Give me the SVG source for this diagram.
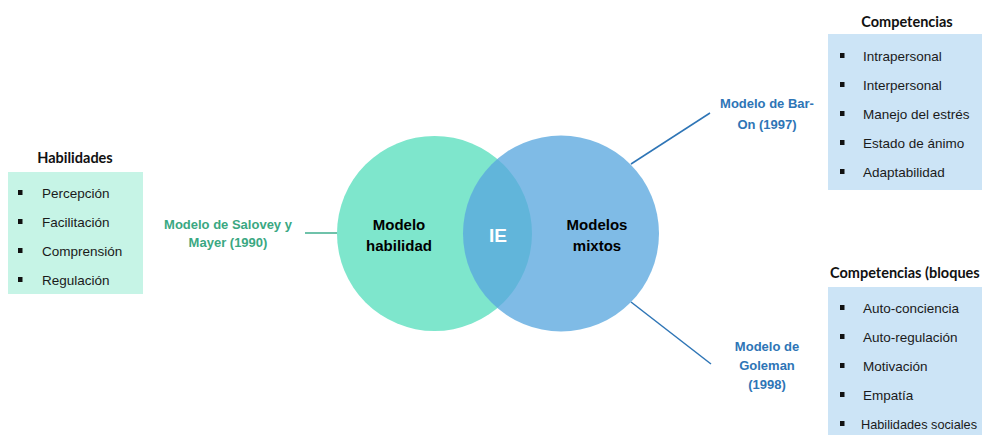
<svg xmlns="http://www.w3.org/2000/svg" width="982" height="435" viewBox="0 0 982 435">
<style>
.item{font-family:"Liberation Sans",Arial,sans-serif;font-size:13.5px;fill:#1a1a1a}
.head{font-family:Lato,"Liberation Sans",sans-serif;font-size:14.5px;font-weight:bold;fill:#111}
.lbl{font-family:"Liberation Sans",Arial,sans-serif;font-size:13px;font-weight:bold;text-anchor:middle}
.green{fill:#3aa882}
.blue{fill:#2e75b6}
.circ{font-family:"Liberation Sans",Arial,sans-serif;font-size:15px;font-weight:bold;text-anchor:middle;fill:#000}
.bul{fill:#111}
</style>
<rect width="982" height="435" fill="#ffffff"/>
<g id="connectors" fill="none" stroke-width="1.5">
<line x1="305" y1="233" x2="338" y2="233" stroke="#3fae8e"/>
<line x1="631" y1="164" x2="710" y2="113" stroke="#2e75b6"/>
<line x1="631" y1="302" x2="711" y2="364" stroke="#2e75b6"/>
</g>
<g id="venn">
<circle id="circle-habilidad" cx="434.5" cy="233.5" r="97.5" fill="#7ee6cc"/>
<circle id="circle-mixtos" cx="561" cy="233.5" r="98" fill="#59a7de" fill-opacity="0.77"/>
<text class="circ" x="399" y="229.5">Modelo</text>
<text class="circ" x="399" y="250.5">habilidad</text>
<text class="circ" x="597" y="229.5">Modelos</text>
<text class="circ" x="597" y="250.5">mixtos</text>
<text x="498" y="242" font-family="Liberation Sans,Arial,sans-serif" font-size="19" font-weight="bold" fill="#ffffff" text-anchor="middle">IE</text>
</g>
<g id="habilidades">
<text class="head" x="75" y="163" text-anchor="middle">Habilidades</text>
<rect x="8" y="172" width="135" height="122" fill="#c6f4e6"/>
<rect class="bul" x="18" y="190" width="4.5" height="5"/>
<rect class="bul" x="18" y="219" width="4.5" height="5"/>
<rect class="bul" x="18" y="248" width="4.5" height="5"/>
<rect class="bul" x="18" y="277" width="4.5" height="5"/>
<text class="item" x="42" y="198">Percepción</text>
<text class="item" x="42" y="227">Facilitación</text>
<text class="item" x="42" y="256">Comprensión</text>
<text class="item" x="42" y="285">Regulación</text>
</g>
<g id="salovey">
<text class="lbl green" x="228" y="229">Modelo de Salovey y</text>
<text class="lbl green" x="228" y="247">Mayer (1990)</text>
</g>
<g id="baron">
<text class="lbl blue" x="767" y="108">Modelo de Bar-</text>
<text class="lbl blue" x="767" y="129">On (1997)</text>
</g>
<g id="goleman">
<text class="lbl blue" x="767" y="351">Modelo de</text>
<text class="lbl blue" x="767" y="370">Goleman</text>
<text class="lbl blue" x="767" y="389">(1998)</text>
</g>
<g id="competencias">
<text class="head" x="907" y="27" text-anchor="middle">Competencias</text>
<rect x="828" y="34" width="160" height="156" fill="#cce4f6"/>
<rect class="bul" x="840" y="53" width="4.5" height="5"/>
<rect class="bul" x="840" y="82" width="4.5" height="5"/>
<rect class="bul" x="840" y="111" width="4.5" height="5"/>
<rect class="bul" x="840" y="140" width="4.5" height="5"/>
<rect class="bul" x="840" y="169" width="4.5" height="5"/>
<text class="item" x="863" y="61">Intrapersonal</text>
<text class="item" x="863" y="90">Interpersonal</text>
<text class="item" x="863" y="119">Manejo del estrés</text>
<text class="item" x="863" y="148">Estado de ánimo</text>
<text class="item" x="863" y="177">Adaptabilidad</text>
</g>
<g id="competencias-bloques">
<text class="head" x="830" y="278">Competencias (bloques</text>
<rect x="828" y="287" width="160" height="150" fill="#cce4f6"/>
<rect class="bul" x="840" y="305" width="4.5" height="5"/>
<rect class="bul" x="840" y="334" width="4.5" height="5"/>
<rect class="bul" x="840" y="363" width="4.5" height="5"/>
<rect class="bul" x="840" y="392" width="4.5" height="5"/>
<rect class="bul" x="840" y="421" width="4.5" height="5"/>
<text class="item" x="863" y="313">Auto-conciencia</text>
<text class="item" x="863" y="342">Auto-regulación</text>
<text class="item" x="863" y="371">Motivación</text>
<text class="item" x="863" y="400">Empatía</text>
<text class="item" x="861" y="429" font-size="13" textLength="116" lengthAdjust="spacingAndGlyphs">Habilidades sociales</text>
</g>
</svg>
